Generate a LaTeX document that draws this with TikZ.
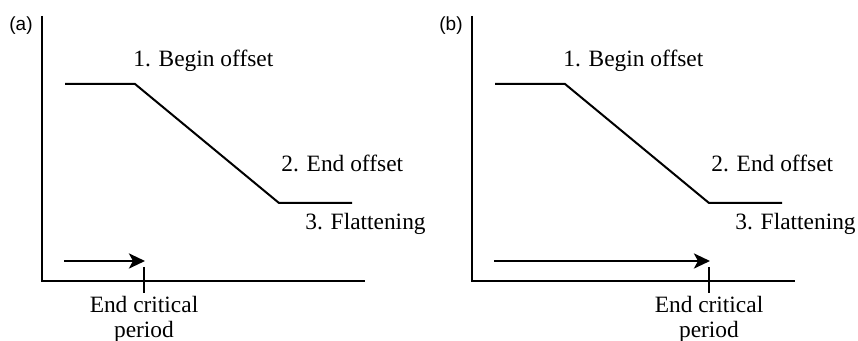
\documentclass[tikz,border=0pt]{standalone}
\usepackage{fontspec}
\setmainfont{Liberation Serif}
\setsansfont{Liberation Sans}
\usetikzlibrary{arrows.meta,positioning}

\begin{document}
\begin{tikzpicture}[x=0.5pt,y=-0.5pt,
    axis/.style={line width=1.2pt},
    curve/.style={line width=1pt},
    period/.style={line width=1.4pt,-{Stealth[length=8pt,width=7.5pt,inset=2pt]}},
    lbl/.style={font=\rmfamily\fontsize{11.7}{12.5}\selectfont,inner sep=0pt},
    panel/.style={font=\sffamily\fontsize{9.5}{11}\selectfont,inner sep=0pt}]
  \useasboundingbox (0,0) rectangle (858,341);
  \foreach \p/\dx/\ec in {a/0/144,b/430/279}{
    \begin{scope}[xshift=\dx*0.5pt]
      \node[panel] (tag\p) at (21,26) {(\p)};
      % axes
      \coordinate (top\p) at (42,16);
      \coordinate (o\p) at (42,281);
      \coordinate (xe\p) at (365,281);
      \draw[axis] (top\p) -- (o\p) -- (xe\p);
      % response curve
      \coordinate (s\p) at (65,84);
      \coordinate (k1\p) at (135,84);
      \coordinate (k2\p) at (279,203);
      \coordinate (e\p) at (352,203);
      \draw[curve] (s\p) -- (k1\p) -- (k2\p) -- (e\p);
      \node[lbl,anchor=base west] (begin\p) at (133,67) {1. Begin offset};
      \node[lbl,anchor=base west] (end\p) at (281,172) {2. End offset};
      \node[lbl,anchor=base west] (flat\p) at (305,230) {3. Flattening};
      % critical period
      \coordinate (as\p) at (64,261);
      \coordinate (ae\p) at (\ec+1,261);
      \draw[period] (as\p) -- (ae\p);
      \coordinate (tt\p) at (\ec,267);
      \coordinate (tb\p) at (\ec,293);
      \draw[axis] (tt\p) -- (tb\p);
      \node[lbl,align=center,below=1.5pt of tb\p] (crit\p) {End critical\\period};
    \end{scope}
  }
\end{tikzpicture}
\end{document}
